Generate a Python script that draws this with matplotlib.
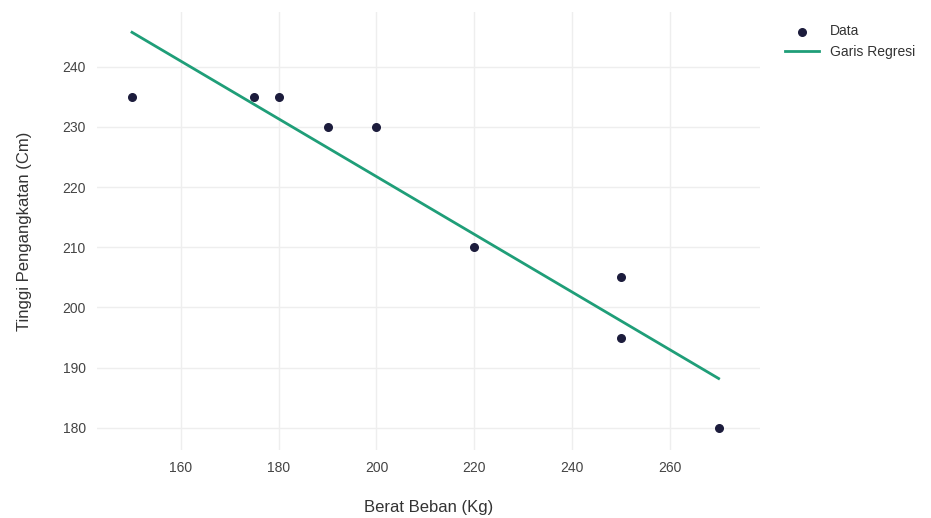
import numpy as np
import matplotlib.pyplot as plt

plt.rcParams['font.family'] = ['Liberation Sans', 'DejaVu Sans']

# Data
berat = np.array([150, 175, 180, 190, 200, 220, 250, 250, 270])
tinggi = np.array([235, 235, 235, 230, 230, 210, 205, 195, 180])
x_ticks = [160, 180, 200, 220, 240, 260]
y_ticks = [180, 190, 200, 210, 220, 230, 240]

# Regresi linier
slope, intercept = np.polyfit(berat, tinggi, 1)
x_line = np.array([berat.min(), berat.max()])
y_line = slope * x_line + intercept

fig = plt.figure(figsize=(9.31, 5.18), dpi=100)
ax = fig.add_axes([0.104, 0.131, 0.712, 0.846])

ax.scatter(berat, tinggi, s=30, color='#1c1c3c', zorder=3, label='Data')
ax.plot(x_line, y_line, color='#1f9e78', linewidth=2, zorder=2, label='Garis Regresi')

ax.set_xlim(142.8, 278.4)
ax.set_ylim(176.3, 249.1)
ax.set_xticks(x_ticks)
ax.set_yticks(y_ticks)
ax.grid(True, color='#eeeeee', linewidth=1)
ax.set_axisbelow(True)
for s in ax.spines.values():
    s.set_visible(False)
ax.tick_params(length=0, labelsize=10, colors='#444444', pad=8)

ax.set_xlabel('Berat Beban (Kg)', fontsize=12, color='#333333', labelpad=18)
ax.set_ylabel('Tinggi Pengangkatan (Cm)', fontsize=12, color='#333333', labelpad=22)

ax.legend(loc='upper left', bbox_to_anchor=(1.02, 1.0), frameon=False,
          fontsize=10, handlelength=2.4, labelcolor='#333333')

fig.savefig('out.png', dpi=100)
